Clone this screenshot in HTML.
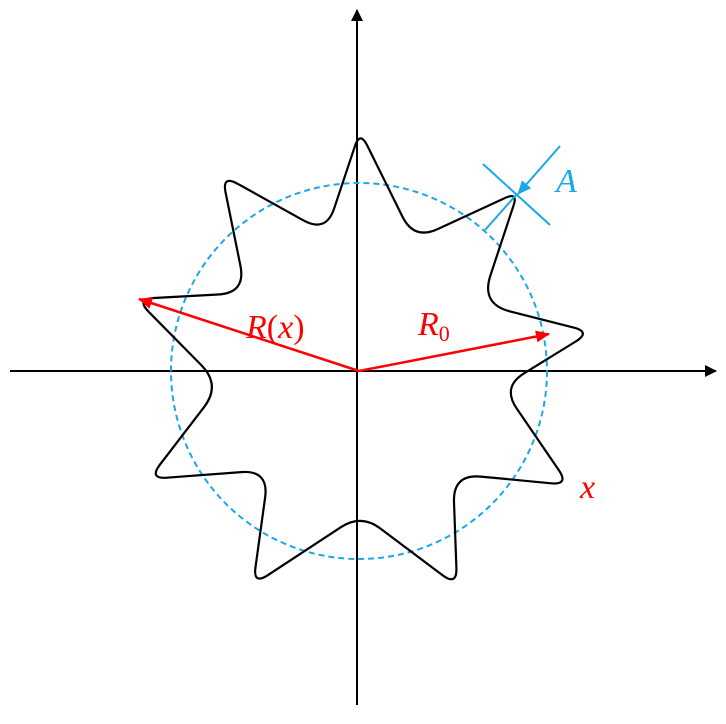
<!DOCTYPE html><html><head><style>body{margin:0;background:#fff}svg{display:block}</style></head><body>
<svg id="s" width="726" height="724" xmlns="http://www.w3.org/2000/svg">
<defs>
<marker id="ak" markerWidth="12" markerHeight="12" refX="11" refY="6" orient="auto" markerUnits="userSpaceOnUse"><path d="M0,0L12,6L0,12z" fill="#000"/></marker>
<marker id="ar" markerWidth="14" markerHeight="12" refX="13" refY="6" orient="auto" markerUnits="userSpaceOnUse"><path d="M0,0L14,6L0,12z" fill="#f00"/></marker>
<marker id="ab" markerWidth="14" markerHeight="12" refX="13" refY="6" orient="auto" markerUnits="userSpaceOnUse"><path d="M0,0L14,6L0,12z" fill="#1aa7e8"/></marker>
</defs>
<line x1="10" y1="371" x2="716" y2="371" stroke="#000" stroke-width="2" marker-end="url(#ak)"/>
<line x1="357" y1="705" x2="357" y2="10" stroke="#000" stroke-width="2" marker-end="url(#ak)"/>
<circle cx="359" cy="371" r="188" fill="none" stroke="#1aa7e8" stroke-width="2" stroke-dasharray="6,4"/>
<path id="w" fill="none" stroke="#000" stroke-width="2.2"/>
<line x1="359" y1="371" x2="139" y2="299" stroke="#f00" stroke-width="2.5" marker-end="url(#ar)"/>
<line x1="359" y1="371" x2="549" y2="334" stroke="#f00" stroke-width="2.5" marker-end="url(#ar)"/>
<line x1="483" y1="164" x2="550" y2="225" stroke="#1aa7e8" stroke-width="2"/>
<line x1="517" y1="194" x2="485" y2="230" stroke="#1aa7e8" stroke-width="2"/>
<line x1="560" y1="146" x2="518" y2="194" stroke="#1aa7e8" stroke-width="2" marker-end="url(#ab)"/>
<text x="556" y="192" font-family="Liberation Serif,serif" font-style="italic" font-size="34" fill="#1aa7e8">A</text>
<text x="246" y="338" font-family="Liberation Serif,serif" font-size="34" fill="#f00"><tspan font-style="italic">R</tspan>(<tspan font-style="italic">x</tspan>)</text>
<text x="418" y="335" font-family="Liberation Serif,serif" font-style="italic" font-size="34" fill="#f00">R<tspan font-style="normal" font-size="22" dy="6">0</tspan></text>
<text x="580" y="498" font-family="Liberation Serif,serif" font-style="italic" font-size="34" fill="#f00">x</text>
</svg>
<script>
var P=[[360,131,16],[414,240,26],[518,192,14],[481,304,30],[591,332,18],[502,387,26],[569,485,18],[453,474,28],[457,586,18],[361,514,24],[253,585,18],[269,470,28],[149,479,18],[221,385,28],[136,299,18],[246,293,28],[222,175,18],[326,233,26]];
var n=P.length,d="";
function pt(a,b,r){var dx=b[0]-a[0],dy=b[1]-a[1],L=Math.hypot(dx,dy);return [a[0]+dx*r/L,a[1]+dy*r/L];}
for(var i=0;i<n;i++){var c=P[i],p=P[(i+n-1)%n],q=P[(i+1)%n];
var s=pt(c,p,c[2]),e=pt(c,q,c[2]);
d+=(i?"L":"M")+s[0].toFixed(1)+","+s[1].toFixed(1)+"Q"+c[0]+","+c[1]+" "+e[0].toFixed(1)+","+e[1].toFixed(1);}
document.getElementById("w").setAttribute("d",d+"Z");
</script>
</body></html>
